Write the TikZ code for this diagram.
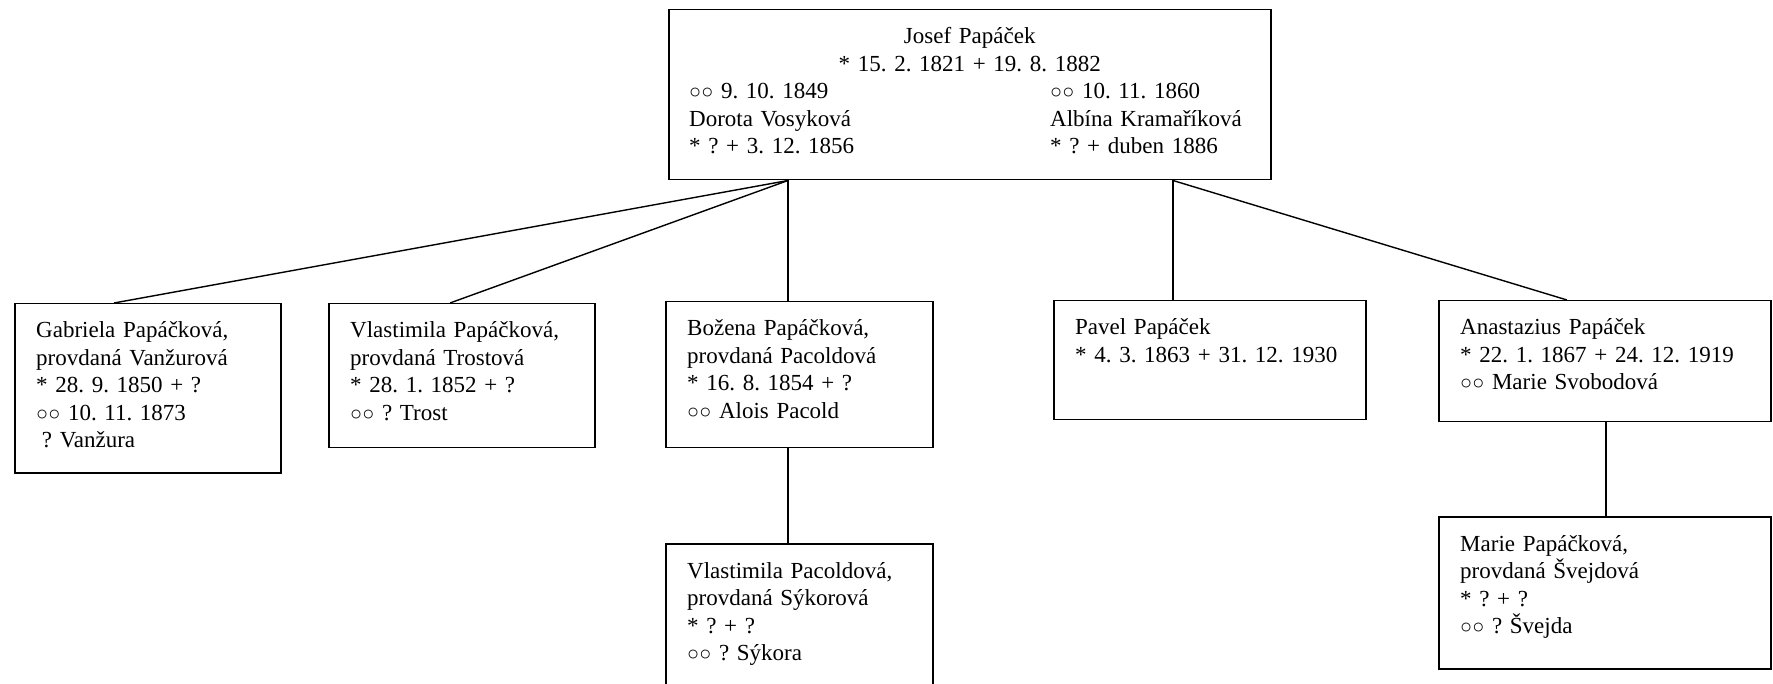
\documentclass[tikz,border=0pt]{standalone}
\usepackage{fontspec}
\setmainfont{Liberation Serif}
\usetikzlibrary{calc}
\frenchspacing
\newcommand{\oddan}{{\fontsize{20}{0}\selectfont ○○}}

\begin{document}
\begin{tikzpicture}[x=1pt, y=-1pt,
		ramec/.style={draw, line width=1.5pt, inner sep=0pt, anchor=north west},
		popis/.style={anchor=base west, align=left, inner sep=0pt, text width=330pt,
			font=\fontsize{23}{27.5}\selectfont},
		vetev/.style={line width=1.4pt}]
			%%%%% START %%%%%
			
			\useasboundingbox (0, 0) rectangle (1773, 684);
			
			\node[ramec, minimum width=602, minimum height=170] (josef) at (668, 9) {};
			\node[popis, anchor=base, align=center, text width=560] (josef-jm) at ($(josef.north)+(0, 35)$) {Josef Papáček\\{}* 15. 2. 1821 + 19. 8. 1882};
			\node[popis] (josef-m1) at ($(josef.north west)+(21, 90)$) {\oddan{} 9. 10. 1849\\Dorota Vosyková\\{}* ? + 3. 12. 1856};
			\node[popis] (josef-m2) at ($(josef.north west)+(382, 90)$) {\oddan{} 10. 11. 1860\\Albína Kramaříková\\{}* ? + duben 1886};
			
			\node[ramec, minimum width=266, minimum height=169] (gabriela) at (14, 303) {};
			\node[popis] (gabriela-t) at ($(gabriela.north west)+(22, 35)$) {Gabriela Papáčková,\\provdaná Vanžurová\\{}* 28. 9. 1850 + ?\\\oddan{} 10. 11. 1873\\\hspace*{0.25em}? Vanžura};
			
			\node[ramec, minimum width=266, minimum height=144] (vlastimila) at (328, 303) {};
			\node[popis] (vlastimila-t) at ($(vlastimila.north west)+(22, 35)$) {Vlastimila Papáčková,\\provdaná Trostová\\{}* 28. 1. 1852 + ?\\\oddan{} ? Trost};
			
			\node[ramec, minimum width=267, minimum height=146] (bozena) at (665, 301) {};
			\node[popis] (bozena-t) at ($(bozena.north west)+(22, 35)$) {Božena Papáčková,\\provdaná Pacoldová\\{}* 16. 8. 1854 + ?\\\oddan{} Alois Pacold};
			
			\node[ramec, minimum width=312, minimum height=119] (pavel) at (1053, 300) {};
			\node[popis] (pavel-t) at ($(pavel.north west)+(22, 35)$) {Pavel Papáček\\{}* 4. 3. 1863 + 31. 12. 1930};
			
			\node[ramec, minimum width=332, minimum height=121] (anastazius) at (1438, 300) {};
			\node[popis] (anastazius-t) at ($(anastazius.north west)+(22, 35)$) {Anastazius Papáček\\{}* 22. 1. 1867 + 24. 12. 1919\\\oddan{} Marie Svobodová};
			
			\node[ramec, minimum width=267, minimum height=141] (pacoldova) at (665, 543) {};
			\node[popis] (pacoldova-t) at ($(pacoldova.north west)+(22, 35)$) {Vlastimila Pacoldová,\\provdaná Sýkorová\\{}* ? + ?\\\oddan{} ? Sýkora};
			
			\node[ramec, minimum width=332, minimum height=152] (marie) at (1438, 516) {};
			\node[popis] (marie-t) at ($(marie.north west)+(22, 35)$) {Marie Papáčková,\\provdaná Švejdová\\{}* ? + ?\\\oddan{} ? Švejda};
			
			% vetve
			\coordinate (j1) at ($(josef.south west)+(120, 0)$);
			\coordinate (j2) at ($(josef.south west)+(505, 0)$);
			\draw[vetev] (j1) -- ($(gabriela.north west)+(100, 0)$);
			\draw[vetev] (j1) -- ($(vlastimila.north west)+(122, 0)$);
			\draw[vetev] (j1) -- (j1 |- bozena.north);
			\draw[vetev] (j2) -- (j2 |- pavel.north);
			\draw[vetev] (j2) -- ($(anastazius.north west)+(129, 0)$);
			\draw[vetev] (j1 |- bozena.south) -- (j1 |- pacoldova.north);
			\coordinate (a1) at ($(anastazius.south west)+(168, 0)$);
			\draw[vetev] (a1) -- (a1 |- marie.north);
			
			%%%%% END %%%%%
\end{tikzpicture}
\end{document}
